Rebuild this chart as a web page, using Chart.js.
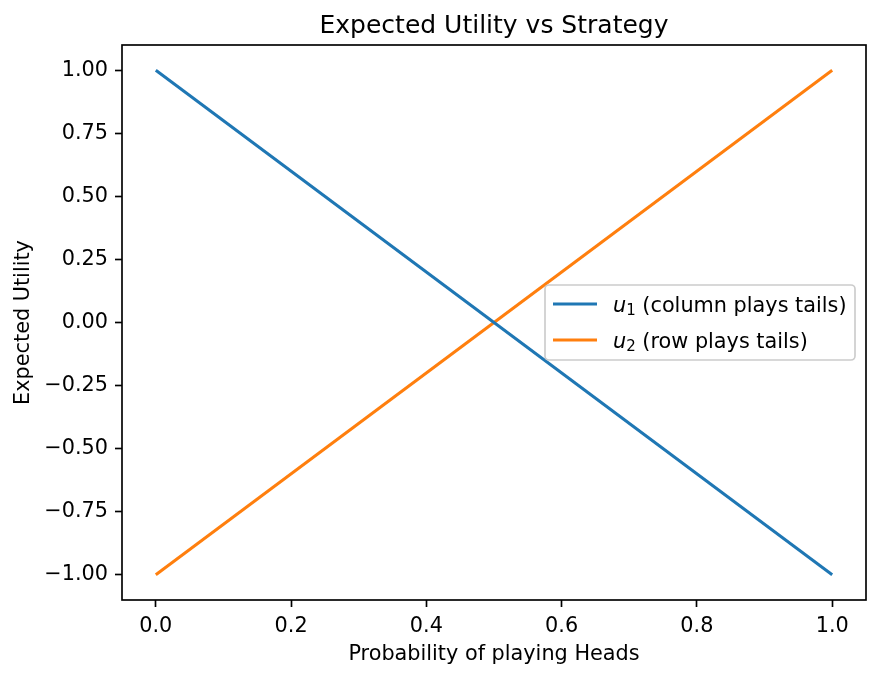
<!DOCTYPE html>
<html>
<head>
<meta charset="utf-8">
<script src="https://cdn.jsdelivr.net/npm/chart.js@4.4.0/dist/chart.umd.min.js"></script>
<style>
  html, body { margin: 0; padding: 0; background: #fff; }
  #wrap { width: 880px; height: 678px; }
</style>
</head>
<body>
<div id="wrap"><canvas id="chart"></canvas></div>
<script>
// data
const probs = [0, 1];
const u1 = [1, -1];   // column plays tails
const u2 = [-1, 1];   // row plays tails
const xTicks = [0, 0.2, 0.4, 0.6, 0.8, 1.0];
const yTicks = [-1, -0.75, -0.5, -0.25, 0, 0.25, 0.5, 0.75, 1];
const legendNames = [['1', ' (column plays tails)'], ['2', ' (row plays tails)']];
const colors = ['#1f77b4', '#ff7f0e'];
const titleText = 'Expected Utility vs Strategy';

const FONT = 'DejaVu Sans';
const FS = 20.8; // 10pt at 150 dpi

// box around the axes, title over the axes, legend with math-style labels
const framePlugin = {
  id: 'frame',
  afterDraw(chart) {
    const ctx = chart.ctx;
    const a = chart.chartArea;
    ctx.save();
    ctx.strokeStyle = '#000';
    ctx.lineWidth = 1.67;
    ctx.strokeRect(a.left, a.top, a.right - a.left, a.bottom - a.top);

    // title centred on the axes, not the canvas
    ctx.fillStyle = '#000';
    ctx.font = '25px ' + FONT;
    ctx.textAlign = 'center';
    ctx.textBaseline = 'alphabetic';
    ctx.fillText(titleText, (a.left + a.right) / 2, a.top - 12);
    ctx.textAlign = 'left';

    // legend box
    const bx = 545, by = 285, bw = 310, bh = 75;
    ctx.fillStyle = 'rgba(255,255,255,0.8)';
    ctx.strokeStyle = '#cccccc';
    ctx.lineWidth = 1.67;
    ctx.beginPath();
    ctx.roundRect(bx, by, bw, bh, 4);
    ctx.fill();
    ctx.stroke();

    legendNames.forEach((n, i) => {
      const y = 304 + i * 36;
      ctx.strokeStyle = colors[i];
      ctx.lineWidth = 3;
      ctx.beginPath();
      ctx.moveTo(553, y);
      ctx.lineTo(597, y);
      ctx.stroke();

      ctx.fillStyle = '#000';
      const base = y + 8;
      let x = 613;
      ctx.font = 'italic ' + FS + 'px ' + FONT;
      ctx.fillText('u', x, base);
      x += ctx.measureText('u').width;
      ctx.font = '15px ' + FONT;
      ctx.fillText(n[0], x, base + 3);
      x += ctx.measureText(n[0]).width;
      ctx.font = FS + 'px ' + FONT;
      ctx.fillText(n[1], x, base);
    });
    ctx.restore();
  }
};

const tickGrid = { display: true, drawOnChartArea: false, drawTicks: true, tickLength: 7, tickWidth: 1.67, color: '#000' };

new Chart(document.getElementById('chart'), {
  type: 'line',
  data: {
    datasets: [
      { data: probs.map((p, i) => ({ x: p, y: u1[i] })), borderColor: colors[0], borderWidth: 3, pointRadius: 0, tension: 0 },
      { data: probs.map((p, i) => ({ x: p, y: u2[i] })), borderColor: colors[1], borderWidth: 3, pointRadius: 0, tension: 0 }
    ]
  },
  options: {
    responsive: true,
    maintainAspectRatio: false,
    animation: false,
    layout: { padding: { left: 0, right: 14, top: 45, bottom: 0 } },
    plugins: {
      legend: { display: false },
      tooltip: { enabled: false },
      title: { display: false }
    },
    scales: {
      x: {
        type: 'linear',
        min: -0.05,
        max: 1.05,
        afterBuildTicks: s => { s.ticks = xTicks.map(v => ({ value: v })); },
        afterFit: s => { s.height = 78; },
        grid: tickGrid,
        border: { display: false },
        ticks: {
          color: '#000',
          font: { family: FONT, size: FS },
          padding: 7,
          maxRotation: 0,
          callback: v => v.toFixed(1)
        },
        title: {
          display: true,
          text: 'Probability of playing Heads',
          color: '#000',
          font: { family: FONT, size: FS, lineHeight: 1.2 },
          padding: { top: 0, bottom: 10.5 }
        }
      },
      y: {
        type: 'linear',
        min: -1.1,
        max: 1.1,
        afterBuildTicks: s => { s.ticks = yTicks.map(v => ({ value: v })); },
        afterFit: s => { s.width = 122; },
        grid: tickGrid,
        border: { display: false },
        ticks: {
          color: '#000',
          font: { family: FONT, size: FS },
          padding: 7,
          callback: v => (v < 0 ? '\u2212' : '') + Math.abs(v).toFixed(2)
        },
        title: {
          display: true,
          text: 'Expected Utility',
          color: '#000',
          font: { family: FONT, size: FS, lineHeight: 1.2 },
          padding: { top: 11.5, bottom: 0 }
        }
      }
    }
  },
  plugins: [framePlugin]
});
</script>
</body>
</html>
